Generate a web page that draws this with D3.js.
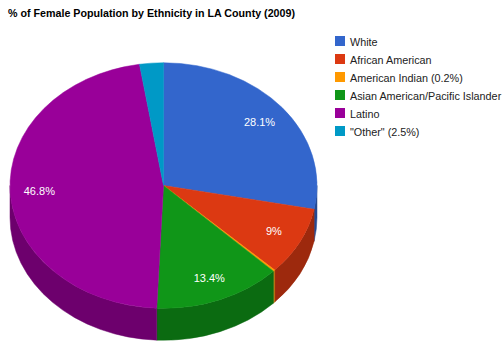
<!DOCTYPE html>
<html>
<head>
<meta charset="utf-8">
<script src="https://cdn.jsdelivr.net/npm/d3@7"></script>
<style>
  html, body { margin: 0; padding: 0; background: #fff; }
  svg { display: block; }
  text { font-family: "Liberation Sans", Arial, sans-serif; }
</style>
</head>
<body>
<svg id="chart" width="502" height="341"></svg>
<script>
// Ethnic share of the female population, LA County 2009 (percent)
const categories = ["White", "African American", "American Indian (0.2%)",
  "Asian American/Pacific Islander", "Latino", "\"Other\" (2.5%)"];
const values = [28.1, 9, 0.2, 13.4, 46.8, 2.5];
const sliceLabels = ["28.1%", "9%", "", "13.4%", "46.8%", ""];
const colors = ["#3366cc", "#dc3912", "#ff9900", "#109618", "#990099", "#0099c6"];

const title = "% of Female Population by Ethnicity in LA County (2009)";

const svg = d3.select("#chart");

// Tilted pie geometry
const cx = 163.5, cy = 185.5, rx = 153.5, ry = 122.75, depth = 32;

const data = categories.map((c, i) => ({ name: c, value: values[i], label: sliceLabels[i], color: colors[i] }));
const arcs = d3.pie().sort(null).value(d => d.value).startAngle(0).endAngle(2 * Math.PI)(data);

// angle measured clockwise from 12 o'clock
const px = (t, dy = 0) => [cx + rx * Math.sin(t), cy - ry * Math.cos(t) + dy];
const pt = p => p[0].toFixed(2) + "," + p[1].toFixed(2);

const sideColor = c => d3.color(c).darker(0.95).formatHex();

// Side walls: only the front half (between 3 and 9 o'clock) is visible
const gSide = svg.append("g");
arcs.forEach(a => {
  const s = Math.max(a.startAngle, Math.PI / 2);
  const e = Math.min(a.endAngle, 3 * Math.PI / 2);
  if (e <= s) return;
  const large = (e - s) > Math.PI ? 1 : 0;
  const d = "M" + pt(px(s)) +
    " A" + rx + "," + ry + " 0 " + large + " 1 " + pt(px(e)) +
    " L" + pt(px(e, depth)) +
    " A" + rx + "," + ry + " 0 " + large + " 0 " + pt(px(s, depth)) + " Z";
  gSide.append("path").attr("d", d)
    .attr("fill", sideColor(a.data.color))
    .attr("stroke", sideColor(a.data.color)).attr("stroke-width", 0.5);
});

// Top faces
const gTop = svg.append("g");
arcs.forEach(a => {
  const large = (a.endAngle - a.startAngle) > Math.PI ? 1 : 0;
  const d = "M" + pt([cx, cy]) + " L" + pt(px(a.startAngle)) +
    " A" + rx + "," + ry + " 0 " + large + " 1 " + pt(px(a.endAngle)) + " Z";
  gTop.append("path").attr("d", d)
    .attr("fill", a.data.color)
    .attr("stroke", a.data.color).attr("stroke-width", 0.5);
});

// Percentage labels on the slices
const gLab = svg.append("g");
arcs.forEach(a => {
  if (!a.data.label) return;
  const mid = (a.startAngle + a.endAngle) / 2;
  const k = 0.81;
  const x = cx + k * rx * Math.sin(mid);
  const y = cy - k * ry * Math.cos(mid);
  gLab.append("text")
    .attr("x", x).attr("y", y + 4)
    .attr("text-anchor", "middle")
    .attr("font-size", 11)
    .attr("fill", "#ffffff")
    .text(a.data.label);
});

// Title
svg.append("text")
  .attr("x", 8).attr("y", 17)
  .attr("font-size", 10.7).attr("font-weight", "bold")
  .attr("fill", "#000")
  .text(title);

// Legend
const legend = svg.append("g").attr("transform", "translate(335,36)");
const legendY = d3.scaleBand().domain(categories).range([0, 108]);
categories.forEach((c, i) => {
  const g = legend.append("g").attr("transform", "translate(0," + legendY(c) + ")");
  g.append("rect").attr("x", 0).attr("y", 0).attr("width", 10).attr("height", 10)
    .attr("fill", colors[i]);
  g.append("text").attr("x", 15).attr("y", 9.5)
    .attr("font-size", 10.8).attr("fill", "#222222")
    .text(c);
});
</script>
</body>
</html>
